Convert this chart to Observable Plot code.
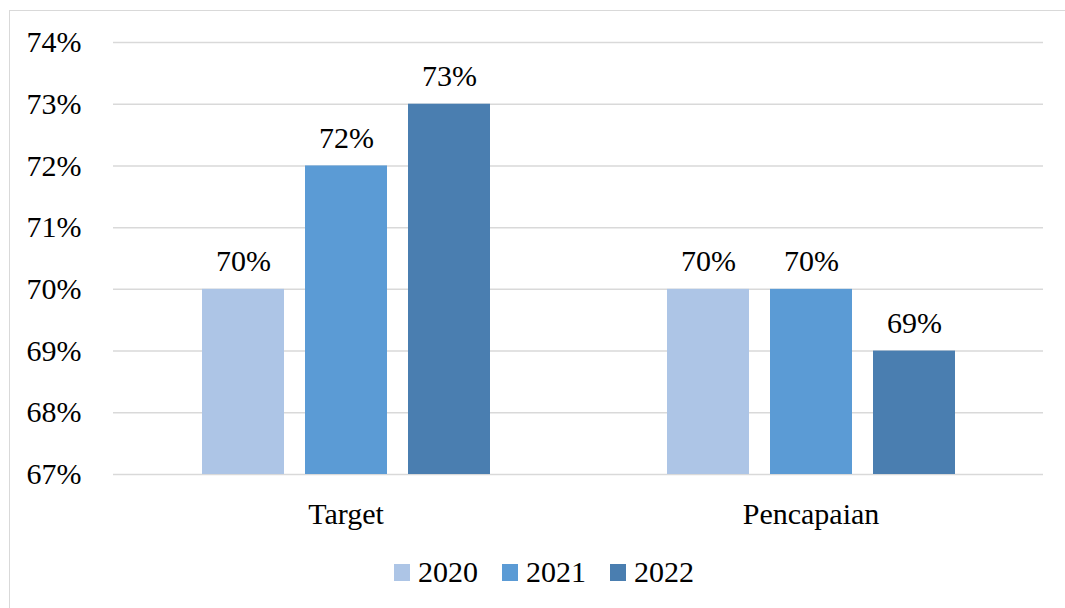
<!DOCTYPE html>
<html>
<head>
<meta charset="utf-8">
<script src="https://cdn.jsdelivr.net/npm/d3@7"></script>
<script src="https://cdn.jsdelivr.net/npm/@observablehq/plot@0.6"></script>
<style>
  html, body { margin: 0; padding: 0; background: #fff; overflow: hidden; }
  #wrap { position: relative; width: 1065px; height: 608px; font-family: 'Liberation Serif', 'Times New Roman', 'DejaVu Serif', serif; }
  #frame { position: absolute; left: 9px; top: 10px; width: 1100px; height: 700px; border: 1.5px solid #d9d9d9; box-sizing: border-box; }
  #chart { position: absolute; left: 0; top: 0; }
  #legend { position: absolute; left: 0; top: 555px; width: 1088px; display: flex; justify-content: center; align-items: center; font-size: 30px; color: #000; }
  .item { display: flex; align-items: center; margin: 0 12px; }
  .sw { width: 16px; height: 17px; margin-right: 8px; }
  #chart svg, #chart svg text { font-family: 'Liberation Serif', 'Times New Roman', 'DejaVu Serif', serif !important; }
</style>
</head>
<body>
<div id="wrap">
  <div id="frame"></div>
  <div id="chart"></div>
  <div id="legend"></div>
</div>
<script>
const categories = ["Target", "Pencapaian"];
const years = ["2020", "2021", "2022"];
const values2020 = [70, 70];
const values2021 = [72, 70];
const values2022 = [73, 69];
const yTicks = [67, 68, 69, 70, 71, 72, 73, 74];
const baseline = 67;
const colors = ["#adc5e6", "#5b9bd5", "#4a7eb0"];

const series = [values2020, values2021, values2022];
const data = [];
categories.forEach((c, i) => {
  years.forEach((y, j) => {
    data.push({category: c, year: y, value: series[j][i]});
  });
});

const chart = Plot.plot({
  width: 1065,
  height: 530,
  marginLeft: 113,
  marginRight: 22,
  marginTop: 42,
  marginBottom: 56,
  style: {fontSize: "30px", color: "#000", background: "transparent"},
  fx: {domain: categories, padding: 0, label: null, axis: null},
  x: {domain: years, paddingInner: 0.208, paddingOuter: 0.853, axis: null},
  y: {domain: [67, 74], ticks: yTicks, label: null},
  color: {domain: years, range: colors},
  marks: [
    Plot.gridY(yTicks, {stroke: "#d9d9d9", strokeOpacity: 1, strokeWidth: 1.5}),
    Plot.barY(data, {fx: "category", x: "year", y1: baseline, y2: "value", fill: "year"}),
    Plot.text(data, {fx: "category", x: "year", y: "value", text: d => d.value + "%", lineAnchor: "bottom", dy: -18, fill: "#000", fontSize: 30}),
    Plot.axisY(yTicks, {tickSize: 0, tickPadding: 32, tickFormat: d => d + "%", fontSize: 30, label: null}),
    Plot.axisFx({anchor: "bottom", tickSize: 0, tickPadding: 28, fontSize: 30, label: null})
  ]
});
document.getElementById("chart").appendChild(chart);

const legend = document.getElementById("legend");
years.forEach((y, i) => {
  const it = document.createElement("div");
  it.className = "item";
  const sw = document.createElement("div");
  sw.className = "sw";
  sw.style.background = colors[i];
  const t = document.createElement("span");
  t.textContent = y;
  it.appendChild(sw);
  it.appendChild(t);
  legend.appendChild(it);
});
</script>
</body>
</html>
